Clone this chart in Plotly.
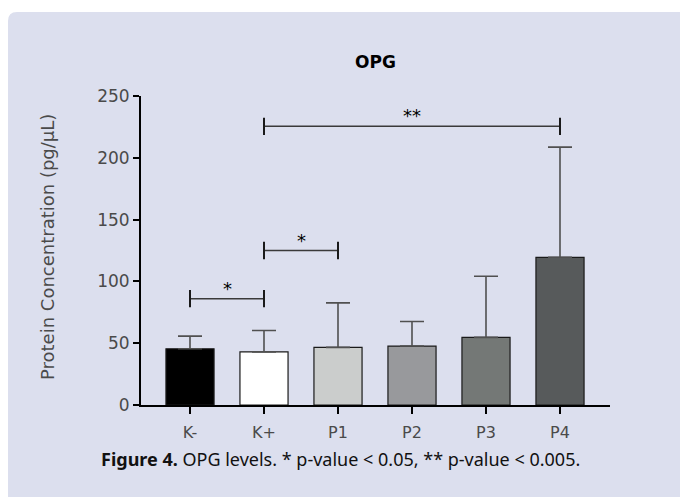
import plotly.graph_objects as go

categories = ["K-", "K+", "P1", "P2", "P3", "P4"]
means = [45.5, 43.0, 46.6, 47.7, 54.7, 119.5]
upper_err = [10.2, 17.3, 36.0, 19.9, 49.5, 89.1]
bar_colors = ["#000000", "#ffffff", "#cbcdcc", "#98999c", "#747876", "#575a5b"]
y_ticks = [0, 50, 100, 150, 200, 250]

# significance brackets: (from index, to index, label, bracket height in data units)
brackets = [(0, 1, "*", 86), (1, 2, "*", 125), (1, 5, "**", 225.5)]

x_idx = list(range(len(categories)))

# plot area in pixels
L, R, T, B = 141, 610, 96, 405
W, H = 680, 497

def px(x):
    return (x - L) / (R - L)

def py(y):
    return (B - y) / (B - T)

fig = go.Figure()
fig.add_trace(go.Bar(
    x=x_idx, y=means, width=0.65,
    marker=dict(color=bar_colors, line=dict(color="#1a1a1a", width=1.2)),
    error_y=dict(type="data", array=upper_err, arrayminus=[0]*len(means),
                 symmetric=False, color="#505050", thickness=1.6, width=12),
    showlegend=False,
))

shapes = []
# panel background with rounded top-left corner
r = 9
x0, y0 = px(8), py(12)
x1, y1 = px(700), py(520)
rx, ry = r / (R - L), r / (B - T)
path = (f"M {x0},{y1} L {x0},{y0 - ry} Q {x0},{y0} {x0 + rx},{y0} "
        f"L {x1},{y0} L {x1},{y1} Z")
shapes.append(dict(type="path", xref="paper", yref="paper", path=path,
                   fillcolor="#dcdfee", line=dict(width=0), layer="below"))

tick_half = 7
for a, b, lab, h in brackets:
    shapes.append(dict(type="line", xref="x", yref="y", x0=a, x1=b, y0=h, y1=h,
                       line=dict(color="#3a3a3a", width=1.5)))
    for xe in (a, b):
        shapes.append(dict(type="line", xref="x", yref="y", x0=xe, x1=xe,
                           y0=h - tick_half, y1=h + tick_half,
                           line=dict(color="#1a1a1a", width=2)))

annotations = []
for a, b, lab, h in brackets:
    annotations.append(dict(x=(a + b) / 2, y=h, xref="x", yref="y", text=lab,
                            showarrow=False, yanchor="bottom", yshift=-2,
                            font=dict(family="DejaVu Sans", size=18, color="#000000")))

annotations.append(dict(x=0.5, y=py(62), xref="paper", yref="paper", text="<b>OPG</b>",
                        showarrow=False, xanchor="center", yanchor="middle",
                        font=dict(family="DejaVu Sans", size=17, color="#000000")))
annotations.append(dict(x=px(340), y=py(459), xref="paper", yref="paper",
                        text="<b>Figure 4.</b> OPG levels. * p-value < 0.05, ** p-value < 0.005.",
                        showarrow=False, xanchor="center", yanchor="middle",
                        font=dict(family="Noto Sans", size=18, color="#111111")))
annotations.append(dict(x=px(47), y=py(247), xref="paper", yref="paper",
                        text="Protein Concentration (pg/μL)", textangle=-90,
                        showarrow=False, xanchor="center", yanchor="middle",
                        font=dict(family="DejaVu Sans", size=18, color="#4a4a4a")))

fig.update_layout(
    width=W, height=H,
    margin=dict(l=L, r=W - R, t=T, b=H - B, pad=0),
    paper_bgcolor="#ffffff",
    plot_bgcolor="rgba(0,0,0,0)",
    shapes=shapes,
    annotations=annotations,
    bargap=0.3,
)
fig.update_xaxes(
    range=[(L - 190) / 74, (R - 190) / 74],
    tickvals=x_idx, ticktext=categories,
    showgrid=False, zeroline=False,
    showline=True, linecolor="#000000", linewidth=2,
    ticks="outside", ticklen=7, tickwidth=2, tickcolor="#000000",
    ticklabelstandoff=5,
    tickfont=dict(family="DejaVu Sans", size=16, color="#4a4a4a"),
)
fig.update_yaxes(
    range=[0, 250], tickvals=y_ticks,
    showgrid=False, zeroline=False,
    showline=True, linecolor="#000000", linewidth=2,
    ticks="outside", ticklen=6, tickwidth=2, tickcolor="#000000",
    tickfont=dict(family="DejaVu Sans", size=17, color="#4a4a4a"),
)

fig.write_html("out.html", config={"displayModeBar": False},
               post_script="document.body.style.margin='0';")
